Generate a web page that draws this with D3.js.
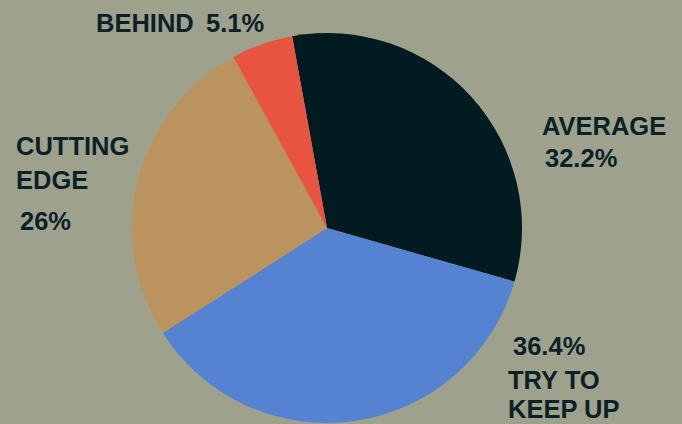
<!DOCTYPE html>
<html>
<head>
<meta charset="utf-8">
<script src="https://cdn.jsdelivr.net/npm/d3@7"></script>
<style>
  html, body { margin: 0; padding: 0; background: #9ea28d; }
  svg { display: block; }
  .lbl { font-family: "Liberation Sans", Arial, sans-serif; font-weight: bold; font-size: 25.5px; fill: #0b2128; }
</style>
</head>
<body>
<svg id="vis" width="682" height="424"></svg>
<script>
// data
const categories = ["AVERAGE", "TRY TO KEEP UP", "CUTTING EDGE", "BEHIND"];
const values = [32.2, 36.4, 26, 5.1];
const valueLabels = ["32.2%", "36.4%", "26%", "5.1%"];
const colors = ["#011b20", "#5583d2", "#bb935e", "#e85440"];

const width = 682, height = 424;
const cx = 327, cy = 228, radius = 195;

const svg = d3.select("svg#vis");

const g = svg.append("g").attr("transform", "translate(" + cx + "," + cy + ")");

// pie starts a little left of 12 o'clock
const start = -10.3 * Math.PI / 180;
const pie = d3.pie().sort(null).startAngle(start).endAngle(start + 2 * Math.PI);
const arc = d3.arc().innerRadius(0).outerRadius(radius);

const data = categories.map(function(c, i) {
  return { name: c, value: values[i], label: valueLabels[i], color: colors[i] };
});

g.selectAll("path.slice")
  .data(pie.value(d => d.value)(data))
  .enter()
  .append("path")
  .attr("class", "slice")
  .attr("d", arc)
  .attr("fill", d => d.data.color);

// label placement: name lines, then the value line ("v" = value text)
const labelLayout = {
  "AVERAGE":        [["AVERAGE", 542, 135], ["v", 545, 167]],
  "TRY TO KEEP UP": [["v", 513, 355], ["TRY TO", 508, 389], ["KEEP UP", 508, 418]],
  "CUTTING EDGE":   [["CUTTING", 16, 155], ["EDGE", 16, 189], ["v", 20, 230]],
  "BEHIND":         [["BEHIND", 96, 32], ["v", 206, 32]]
};

data.forEach(function(d) {
  labelLayout[d.name].forEach(function(l) {
    svg.append("text")
      .attr("class", "lbl")
      .attr("x", l[1])
      .attr("y", l[2])
      .text(l[0] === "v" ? d.label : l[0]);
  });
});
</script>
</body>
</html>
